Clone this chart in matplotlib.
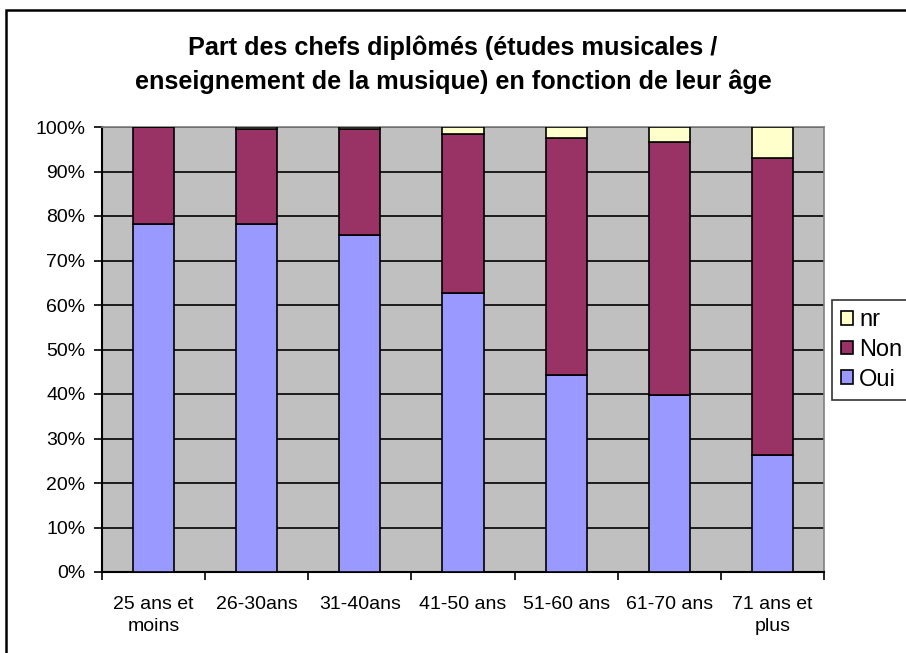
import numpy as np
import matplotlib.pyplot as plt
from matplotlib.patches import Rectangle

plt.rcParams['font.family'] = ['Liberation Sans', 'DejaVu Sans']

categories = ['25 ans et\nmoins', '26-30ans', '31-40ans', '41-50 ans',
              '51-60 ans', '61-70 ans', '71 ans et\nplus']
oui = [78.3, 78.3, 75.7, 62.6, 44.2, 39.7, 26.4]
non = [21.7, 21.2, 23.8, 35.8, 53.4, 57.0, 66.6]
nr = [0.0, 0.5, 0.5, 1.6, 2.4, 3.3, 7.0]
yticks = [0, 10, 20, 30, 40, 50, 60, 70, 80, 90, 100]

fig = plt.figure(figsize=(9.06, 6.53), dpi=100)
ax = fig.add_axes([102 / 906, 1 - 572 / 653, 722 / 906, 445 / 653])
ax.set_facecolor('#C0C0C0')

x = np.arange(len(categories))
oui_a = np.array(oui)
non_a = np.array(non)
kw = dict(width=0.4, edgecolor='black', linewidth=1.2, zorder=3)
b1 = ax.bar(x, oui_a, color='#9999FF', label='Oui', **kw)
b2 = ax.bar(x, non_a, bottom=oui_a, color='#993366', label='Non', **kw)
b3 = ax.bar(x, nr, bottom=oui_a + non_a, color='#FFFFCC', label='nr', **kw)

ax.set_xlim(-0.5, len(categories) - 0.5)
ax.set_ylim(0, 100)
ax.set_yticks(yticks)
ax.set_yticklabels([f'{v}%' for v in yticks])
ax.yaxis.grid(True, color='black', linewidth=1.2, zorder=1)
ax.set_axisbelow(True)

ax.set_xticks(x)
ax.set_xticklabels(categories, linespacing=1.4)
ax.set_xticks(np.arange(-0.5, len(categories)), minor=True)
ax.tick_params(axis='x', which='major', length=0, pad=17, labelsize=14)
ax.tick_params(axis='x', which='minor', length=6, width=1.2, direction='out')
ax.tick_params(axis='y', length=6, width=1.2, direction='out', labelsize=14, pad=6)

for side in ['top', 'right']:
    ax.spines[side].set_color('#808080')
    ax.spines[side].set_linewidth(1.2)
for side in ['left', 'bottom']:
    ax.spines[side].set_color('black')
    ax.spines[side].set_linewidth(1.5)

fig.text(0.5, 1 - 48 / 653, 'Part des chefs diplômés (études musicales /',
         ha='center', va='center', fontsize=18.2, fontweight='bold')
fig.text(0.5, 1 - 82 / 653, 'enseignement de la musique) en fonction de leur âge',
         ha='center', va='center', fontsize=18.2, fontweight='bold')

leg = fig.legend(handles=[b3, b2, b1], labels=['nr', 'Non', 'Oui'],
                 loc='upper left', bbox_to_anchor=(832 / 906, 1 - 300 / 653),
                 fontsize=17, frameon=True, fancybox=False, borderpad=0.4,
                 handlelength=0.5, handleheight=0.5, handletextpad=0.25,
                 labelspacing=0.32, borderaxespad=0)
leg.get_frame().set_edgecolor('black')
leg.get_frame().set_linewidth(1.2)

fig.patches.append(Rectangle((6 / 906, -0.1), 2.0, 1.1 - 10 / 653,
                             transform=fig.transFigure, fill=False,
                             edgecolor='black', linewidth=1.8))

fig.savefig('out.png', dpi=100)
